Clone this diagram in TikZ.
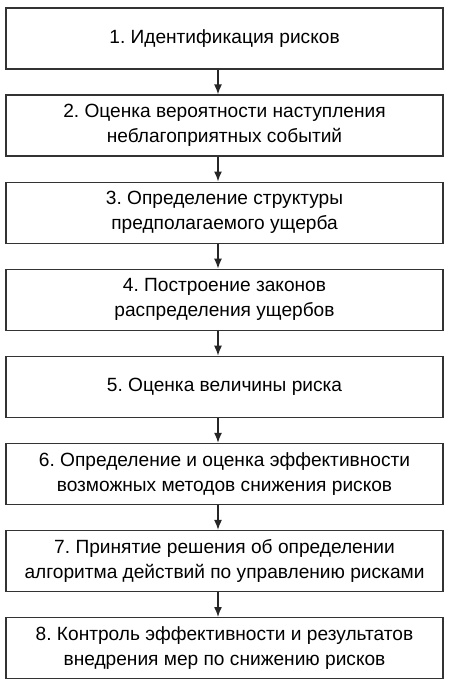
\documentclass[tikz,border=0pt]{standalone}
\usepackage{fontspec}
\setmainfont{Liberation Sans}
\frenchspacing
\usetikzlibrary{positioning,arrows.meta}
\begin{document}
\begin{tikzpicture}[x=1bp,y=1bp,node distance=24.7bp,
stage/.style={draw=black!80,line width=1.4bp,minimum width=437bp,minimum height=61bp,
  align=center,inner sep=0pt,font=\fontsize{19.2}{25}\selectfont},
link/.style={draw=black!85,line width=1.4bp,-{Latex[length=10bp,width=8bp]}}]
\useasboundingbox(0,0)rectangle(450,-688);
\node[stage](s1)at(224.5,-38.5){1. Идентификация рисков};
\node[stage,below=of s1](s2){2. Оценка вероятности наступления\\неблагоприятных событий};
\node[stage,below=of s2](s3){3. Определение структуры\\предполагаемого ущерба};
\node[stage,below=of s3](s4){4. Построение законов\\распределения ущербов};
\node[stage,below=of s4](s5){5. Оценка величины риска};
\node[stage,below=of s5](s6){6. Определение и оценка эффективности\\возможных методов снижения рисков};
\node[stage,below=of s6](s7){7. Принятие решения об определении\\алгоритма действий по управлению рисками};
\node[stage,below=of s7](s8){8. Контроль эффективности и результатов\\внедрения мер по снижению рисков};
\draw[link]([xshift=-6.5bp]s1.south)--([xshift=-6.5bp]s2.north);
\draw[link]([xshift=-6.5bp]s2.south)--([xshift=-6.5bp]s3.north);
\draw[link]([xshift=-6.5bp]s3.south)--([xshift=-6.5bp]s4.north);
\draw[link]([xshift=-6.5bp]s4.south)--([xshift=-6.5bp]s5.north);
\draw[link]([xshift=-6.5bp]s5.south)--([xshift=-6.5bp]s6.north);
\draw[link]([xshift=-6.5bp]s6.south)--([xshift=-6.5bp]s7.north);
\draw[link]([xshift=-6.5bp]s7.south)--([xshift=-6.5bp]s8.north);
\end{tikzpicture}
\end{document}
